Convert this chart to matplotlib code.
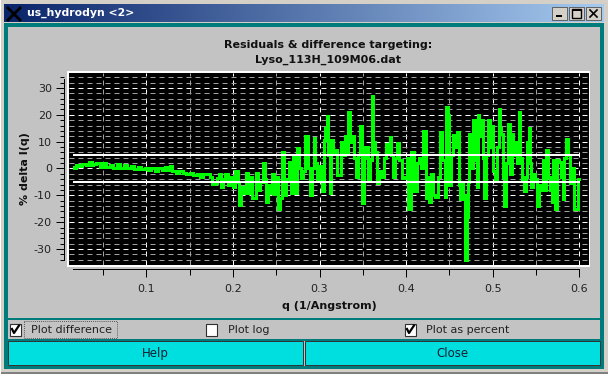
import matplotlib
matplotlib.use('Agg')
import matplotlib.pyplot as plt
from matplotlib.patches import Rectangle
from matplotlib.ticker import MultipleLocator
from matplotlib.colors import LinearSegmentedColormap
import numpy as np

W, H = 608, 374
PX = 72 / 100  # one pixel in points at dpi 100

# low q part of the residual curve
q_low = [0.016, 0.018, 0.020, 0.024, 0.028, 0.032, 0.036, 0.038, 0.040, 0.044, 0.048, 0.052, 0.056,
         0.060, 0.064, 0.068, 0.072, 0.076, 0.080, 0.084, 0.088, 0.092, 0.096, 0.100, 0.104, 0.108,
         0.112, 0.116, 0.120, 0.124, 0.126, 0.128, 0.132, 0.136, 0.140, 0.144, 0.148, 0.152, 0.156,
         0.160, 0.164, 0.168, 0.172, 0.1754]
diff_low = [0.6, 0.2, 1.4, 1.0, 1.8, 1.2, 2.4, 1.2, 1.6, 1.9, 0.6, 2.0, 0.7,
            1.4, 0.3, 1.5, 0.1, 1.2, 0.0, 1.1, -0.2, 0.5, -0.3, 0.2, -0.6, 0.1,
            -0.8, 0.0, -0.7, 0.5, -0.6, 0.9, -0.9, -1.6, -1.0, -1.5, -1.9, -1.6, -2.6,
            -2.2, -3.0, -2.0, -2.2, -3.2]

# noisy part, read peak by peak
q_mid = [0.1774, 0.1804, 0.1831, 0.1850, 0.1877, 0.1900, 0.1927, 0.1954, 0.1985, 0.2012, 0.2043, 0.2066,
         0.2082, 0.2108, 0.2132, 0.2159, 0.2185, 0.2212, 0.2235, 0.2262, 0.2282, 0.2305, 0.2332, 0.2359,
         0.2378, 0.2397, 0.2420, 0.2443, 0.2467, 0.2490, 0.2513, 0.2536, 0.2559, 0.2582, 0.2601, 0.2628,
         0.2659, 0.2682, 0.2705, 0.2728, 0.2755, 0.2775, 0.2794, 0.2821, 0.2852, 0.2878, 0.2905, 0.2925,
         0.2944, 0.2963, 0.2982, 0.3013, 0.3044, 0.3059, 0.3075, 0.3090, 0.3110, 0.3129, 0.3148, 0.3167,
         0.3186, 0.3225, 0.3264, 0.3283, 0.3302, 0.3321, 0.3344, 0.3364, 0.3383, 0.3410, 0.3429, 0.3452,
         0.3475, 0.3498, 0.3521, 0.3537, 0.3575, 0.3595, 0.3614, 0.3629, 0.3644, 0.3679, 0.3706, 0.3729,
         0.3756, 0.3783, 0.3806]
diff_mid = [-5.8, -5.5, -3.5, -2.0, -7.0, -4.0, -2.0, -6.0, -3.0, -7.0, -1.0, -5.0,
            -13.5, -7.0, -9.0, -1.5, -9.0, -3.0, -11.0, -11.0, -1.5, -8.0, -5.0, 2.0,
            -4.0, -12.5, -6.0, -9.0, -2.0, -9.5, -3.0, -15.0, -11.0, 6.0, -10.0, -4.0,
            2.5, -9.0, 5.0, -9.0, 7.5, 0.0, -3.5, -1.0, 12.0, 0.0, -9.8, 0.0,
            11.5, 2.0, -4.0, 1.0, -8.5, 10.5, 15.0, 19.5, 5.0, -9.0, 10.5, 6.0,
            7.0, -2.5, 10.0, 5.0, 12.0, 6.0, 21.0, 10.0, 12.0, 4.0, -3.0, 5.0,
            16.0, -13.0, 4.0, 8.0, -4.0, 3.0, 27.0, 10.0, 6.0, -5.5, -1.0, -3.0,
            4.0, 9.0, 6.0]

q_high = [0.3822, 0.3837, 0.3860, 0.3883, 0.3910, 0.3937, 0.3968, 0.3999, 0.4014, 0.4037, 0.4076, 0.4114,
          0.4137, 0.4161, 0.4187, 0.4211, 0.4238, 0.4261, 0.4276, 0.4299, 0.4322, 0.4353, 0.4376, 0.4403,
          0.4430, 0.4457, 0.4476, 0.4492, 0.4507, 0.4530, 0.4553, 0.4576, 0.4603, 0.4622, 0.4634, 0.4653,
          0.4669, 0.4696, 0.4715, 0.4726, 0.4738, 0.4765, 0.4788, 0.4807, 0.4823, 0.4834, 0.4853, 0.4873,
          0.4892, 0.4911, 0.4938, 0.4961, 0.4977, 0.4992, 0.5015, 0.5038, 0.5058, 0.5077, 0.5092, 0.5104,
          0.5123, 0.5146, 0.5169, 0.5192, 0.5211, 0.5227, 0.5246, 0.5269, 0.5288, 0.5308, 0.5327, 0.5342,
          0.5358, 0.5373, 0.5393, 0.5408, 0.5423, 0.5439, 0.5454, 0.5477, 0.5500, 0.5527, 0.5547, 0.5566,
          0.5585, 0.5608, 0.5631, 0.5654, 0.5674, 0.5693, 0.5708, 0.5731, 0.5751, 0.5778, 0.5797, 0.5816,
          0.5839, 0.5862, 0.5881, 0.5904, 0.5927, 0.5950, 0.5977, 0.5993]
diff_high = [11.8, 5.0, -3.0, 4.0, 9.5, 3.0, -3.5, -3.0, 4.0, -15.0, 6.0, -8.5,
             2.0, 4.0, 0.0, 14.0, -11.0, -3.0, -12.5, -2.0, -10.0, -10.5, -3.0, 13.5,
             3.0, -10.5, 23.0, 20.0, -6.0, 5.0, 12.5, 8.0, 13.5, -6.0, -11.5, -5.0,
             -10.0, -34.0, -18.0, -5.0, 13.0, 0.0, 18.0, 3.0, -7.0, 20.0, 12.0, 18.0,
             4.0, -11.0, 5.0, 18.0, 8.0, 16.0, -1.0, -4.5, 8.0, 22.0, 15.0, 13.0,
             -3.0, -14.0, 2.0, 16.5, -2.0, 13.0, 5.0, 10.0, 2.0, 21.0, 4.0, -4.0,
             -3.0, -8.5, -3.0, 10.0, 15.0, 2.0, -7.0, -2.0, -4.0, -14.0, -6.0, -8.0,
             3.0, -8.0, 7.0, -3.0, -8.0, -12.5, 3.0, -15.0, 3.0, 2.5, -3.0, -11.5,
             4.0, 11.0, 5.0, -5.5, 0.0, -15.0, -15.0, -4.0]

q = q_low + q_mid + q_high
diff = diff_low + diff_mid + diff_high

target_band = [5, -5]
title_lines = ['Residuals & difference targeting:', 'Lyso_113H_109M06.dat']
x_ticks = [0.1, 0.2, 0.3, 0.4, 0.5, 0.6]
y_ticks = [-30, -20, -10, 0, 10, 20, 30]

fig = plt.figure(figsize=(W / 100, H / 100), dpi=100, facecolor='#d4d0c8')

# window decoration, drawn in pixel coordinates
bg = fig.add_axes([0, 0, 1, 1])
bg.set_xlim(0, W)
bg.set_ylim(H, 0)
bg.axis('off')


def box(x0, y0, x1, y1, color, z=1, edge='none', lw=0):
    bg.add_patch(Rectangle((x0, y0), x1 - x0, y1 - y0, facecolor=color, edgecolor=edge, linewidth=lw, zorder=z))


box(0, 0, W, H, '#d4d0c8', 0)
box(0, 372, W, H, '#808080', 0.5)
box(0, 0, 1, H, '#ffffff', 0.5)
box(4, 23, 604, 369, '#007b7b')
box(8, 27, 600, 366, '#c3c3c3')
cmap = LinearSegmentedColormap.from_list('bar', ['#0a246a', '#a6caf0'])
bg.imshow(np.linspace(0, 1, 256)[None, :], extent=(4, 604, 22, 4), cmap=cmap, aspect='auto', zorder=1)
bg.set_xlim(0, W)
bg.set_ylim(H, 0)
bg.plot([8, 20], [8, 20], color='black', lw=2, zorder=2)
bg.plot([20, 8], [8, 20], color='black', lw=2, zorder=2)
bg.text(27, 12.5, 'us_hydrodyn <2>', color='white', fontsize=7.8, fontweight='bold', va='center', zorder=3)

for x0, kind in [(552, 'min'), (569, 'max'), (586, 'close')]:
    box(x0, 7, x0 + 15, 20, '#d4d0c8', 2, '#505050', 0.6)
    if kind == 'min':
        box(x0 + 4, 15, x0 + 10, 17, 'black', 3)
    elif kind == 'max':
        box(x0 + 3, 9, x0 + 12, 18, 'none', 3, 'black', 1)
        box(x0 + 3, 9, x0 + 12, 11, 'black', 3)
    else:
        bg.plot([x0 + 4, x0 + 11], [10, 17], color='black', lw=1.2, zorder=3)
        bg.plot([x0 + 11, x0 + 4], [10, 17], color='black', lw=1.2, zorder=3)

box(67, 71, 590, 267, 'white', 2)

# separators and buttons
box(8, 318, 600, 320, '#007b7b', 2)
box(8, 339, 600, 341, '#007b7b', 2)
box(8, 341, 303, 365, '#00dfdf', 2, '#303030', 0.7)
box(305, 341, 600, 365, '#00dfdf', 2, '#303030', 0.7)
bg.text(155, 353.5, 'Help', color='#102030', fontsize=8.5, ha='center', va='center', zorder=3)
bg.text(452, 353.5, 'Close', color='#102030', fontsize=8.5, ha='center', va='center', zorder=3)

for x0, checked in [(9, True), (205, False), (404, True)]:
    box(x0 + 0.5, 323.5, x0 + 11.5, 335.5, 'white', 2, '#303030', 0.8)
    if checked:
        bg.plot([x0 + 3, x0 + 5, x0 + 10], [329, 333, 325.5], color='black', lw=1.6, zorder=3)

bg.add_patch(Rectangle((23.5, 320.5), 93, 17, facecolor='none', edgecolor='#303030', linewidth=0.6,
                       linestyle=(0, (1, 1.5)), zorder=3))
bg.text(31, 330, 'Plot difference', color='#222222', fontsize=8, va='center', zorder=3)
bg.text(228, 330, 'Plot log', color='#222222', fontsize=8, va='center', zorder=3)
bg.text(426, 330, 'Plot as percent', color='#222222', fontsize=8, va='center', zorder=3)

bg.text(328, 44.5, title_lines[0], color='#111111', fontsize=8, fontweight='bold', ha='center', va='center', zorder=3)
bg.text(328, 59.5, title_lines[1], color='#111111', fontsize=8, fontweight='bold', ha='center', va='center', zorder=3)

# plot area
x0, x1, y0, y1 = 69, 589, 73, 265
ax = fig.add_axes([x0 / W, 1 - y1 / H, (x1 - x0) / W, (y1 - y0) / H], facecolor='black')
ax.set_xlim(0.1 - (146.3 - x0) / 866, 0.6 + (x1 - 579.3) / 866)
ax.set_ylim((168.5 - y1) / 2.683, (168.5 - y0) / 2.683)

ax.set_xticks(x_ticks)
ax.set_yticks(y_ticks)
ax.xaxis.set_minor_locator(MultipleLocator(0.05))
ax.yaxis.set_minor_locator(MultipleLocator(2))
ax.set_xticklabels([str(t) for t in x_ticks])
ax.set_yticklabels([str(t) for t in y_ticks])

dash = (0, (5, 4))
ax.grid(which='major', color='white', lw=PX, linestyle=dash)
ax.grid(which='minor', color='#a0a0a0', lw=PX, linestyle=dash)
ax.set_axisbelow(True)

ax.plot(q, diff, color='#00ff00', lw=3 * PX, drawstyle='steps-mid', solid_joinstyle='miter', zorder=3)
for level in target_band:
    ax.plot([0.016, 0.6], [level, level], color='white', lw=2 * PX, zorder=4)

for side in ['top', 'right']:
    ax.spines[side].set_visible(False)
ax.spines['left'].set_position(('outward', 5 * PX))
ax.spines['bottom'].set_position(('outward', 4 * PX))
ax.spines['left'].set_bounds(-34, 33.5)
ax.spines['bottom'].set_bounds(0.0157, 0.6)
ax.spines['left'].set_linewidth(PX)
ax.spines['bottom'].set_linewidth(PX)
ax.tick_params(axis='both', which='major', length=8 * PX, width=PX, labelsize=8, labelcolor='#222222')
ax.tick_params(axis='both', which='minor', length=4 * PX, width=PX)
ax.tick_params(axis='x', which='minor', length=6 * PX)
ax.tick_params(axis='y', which='major', pad=3)
ax.tick_params(axis='x', which='major', pad=5)

ax.set_xlabel('q (1/Angstrom)', fontsize=8, fontweight='bold', color='#111111', labelpad=5)
ax.set_ylabel('% delta I(q)', fontsize=8, fontweight='bold', color='#111111', labelpad=3)

fig.savefig('out.png', dpi=100, facecolor=fig.get_facecolor())
